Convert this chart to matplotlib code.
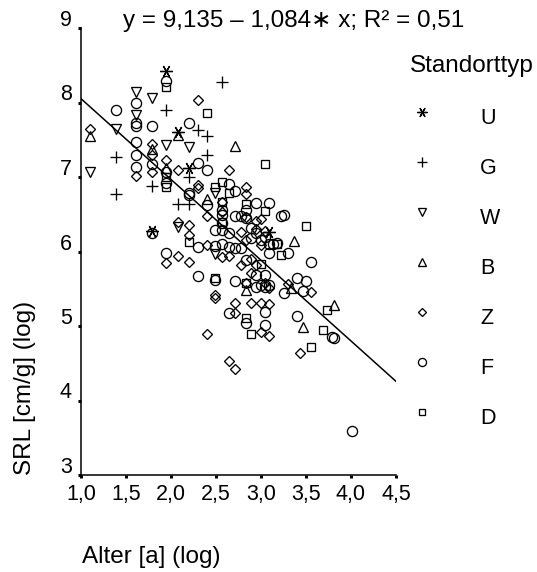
import numpy as np
import matplotlib
matplotlib.use("Agg")
import matplotlib.pyplot as plt
from matplotlib.transforms import ScaledTranslation

plt.rcParams['font.family'] = ['Liberation Sans', 'DejaVu Sans']

# ---- data: stand age [years] and log specific root length, by site type ----
site_types = ["U", "G", "W", "B", "Z", "F", "D"]

age_U = [7, 8, 9, 6, 22]
srl_U = [8.42, 7.60, 7.12, 6.27, 6.26]

age_G = [13, 7, 10, 11, 11, 4, 4, 9, 6, 8, 9]
srl_G = [8.28, 7.90, 7.63, 7.55, 7.30, 7.27, 6.77, 7.00, 6.88, 6.64, 6.64]

age_W = [3, 4, 5, 5, 6, 7, 9, 12, 8, 12]
srl_W = [7.07, 7.64, 8.14, 7.83, 8.06, 7.43, 7.40, 6.79, 6.33, 5.97]

age_B = [3, 8, 6, 7, 15, 11, 29, 17, 28, 45, 32]
srl_B = [7.55, 7.56, 7.38, 7.12, 7.42, 6.70, 6.14, 5.48, 5.51, 5.28, 4.99]

age_Z = [3, 5, 6, 6, 6, 7, 8, 10, 14, 10, 10, 17, 17, 13, 11, 13, 8, 9, 9, 16,
         17, 19, 20, 19, 21, 17, 20, 11, 7, 8, 9, 13, 14, 16, 18, 19, 18, 17,
         21, 22, 27, 35, 12, 12, 15, 18, 20, 22, 15, 11, 20, 22, 31, 14, 15]
srl_Z = [7.64, 7.02, 7.44, 7.30, 7.07, 7.23, 7.09, 8.03, 7.09, 6.89, 6.85, 6.87,
         6.77, 6.66, 6.48, 6.53, 6.40, 6.36, 6.22, 6.26, 6.46, 6.41, 6.43, 6.30,
         6.27, 6.15, 6.09, 6.09, 5.85, 5.94, 5.86, 5.93, 5.94, 5.82, 5.90, 5.82,
         5.71, 5.58, 5.58, 5.51, 5.56, 5.46, 5.41, 5.38, 5.31, 5.31, 5.31, 5.30,
         5.17, 4.89, 4.92, 4.87, 4.64, 4.53, 4.42]

age_F = [7, 5, 5, 5, 5, 5, 5, 4, 6, 6, 6, 9, 10, 11, 7, 7, 14, 15, 9, 9, 11,
         15, 16, 12, 13, 14, 19, 22, 17, 13, 13, 13, 25, 26, 17, 18, 19, 18, 20,
         21, 24, 22, 23, 7, 10, 12, 13, 14, 15, 16, 22, 27, 35, 17, 10, 12, 15,
         19, 21, 19, 20, 21, 22, 30, 33, 32, 26, 21, 14, 30, 17, 21, 44, 45, 55]
srl_F = [8.29, 8.00, 7.72, 7.69, 7.47, 7.30, 7.13, 7.90, 7.68, 7.17, 6.25, 7.72,
         7.19, 7.09, 7.07, 6.92, 6.91, 6.81, 6.79, 6.76, 6.62, 6.48, 6.48, 6.29,
         6.29, 6.25, 6.65, 6.65, 6.56, 6.56, 6.49, 6.38, 6.47, 6.49, 6.45, 6.32,
         6.25, 6.18, 6.15, 6.20, 6.12, 6.10, 6.10, 5.98, 6.06, 6.07, 6.10, 6.06,
         6.05, 6.05, 5.98, 5.98, 5.86, 5.88, 5.67, 5.62, 5.60, 5.69, 5.69, 5.52,
         5.55, 5.52, 5.55, 5.64, 5.60, 5.47, 5.44, 5.19, 5.17, 5.13, 5.04, 5.01,
         4.85, 4.84, 3.59]

age_D = [7, 11, 21, 13, 12, 14, 13, 17, 21, 13, 9, 24, 33, 7, 7, 25, 20, 12,
         17, 17, 18, 42, 40, 35]
srl_D = [8.21, 7.86, 7.17, 6.93, 6.87, 6.79, 6.66, 6.64, 6.54, 6.40, 6.13, 6.10,
         6.34, 7.00, 6.87, 5.95, 5.83, 5.64, 5.58, 5.11, 4.89, 5.21, 4.95, 4.72]

# fitted regression (log SRL on log age)
INTERCEPT = 9.135
SLOPE = -1.084
R2 = 0.51

x_ticks = [1.0, 1.5, 2.0, 2.5, 3.0, 3.5, 4.0, 4.5]
y_ticks = [3, 4, 5, 6, 7, 8, 9]

series = {
    "U": (age_U, srl_U), "G": (age_G, srl_G), "W": (age_W, srl_W),
    "B": (age_B, srl_B), "Z": (age_Z, srl_Z), "F": (age_F, srl_F),
    "D": (age_D, srl_D),
}
marker_style = {
    "U": dict(marker=(6, 2, 90), ms=9.0),
    "G": dict(marker="+", ms=8.5),
    "W": dict(marker="v", ms=7.5),
    "B": dict(marker="^", ms=7.5),
    "Z": dict(marker="D", ms=5.3),
    "F": dict(marker="o", ms=7.3),
    "D": dict(marker="s", ms=5.2),
}

W_PX, H_PX = 537, 572
fig = plt.figure(figsize=(W_PX / 100, H_PX / 100), dpi=100)
fig.patch.set_facecolor("white")


def fx(px):
    return px / W_PX


def fy(py):
    return 1 - py / H_PX


ax = fig.add_axes([fx(81), fy(475), (396 - 81) / W_PX, (475 - 28) / H_PX])

for key in site_types:
    ages, srl = series[key]
    st = marker_style[key]
    ax.plot(np.log(ages), srl, linestyle="none", marker=st["marker"],
            ms=st["ms"], mfc="none", mec="black", mew=0.95, clip_on=False,
            zorder=3)

x_fit = np.array([x_ticks[0], x_ticks[-1]])
ax.plot(x_fit, INTERCEPT + SLOPE * x_fit, color="black", lw=1.1, zorder=2)

ax.set_xlim(x_ticks[0], x_ticks[-1])
ax.set_ylim(y_ticks[0], y_ticks[-1])
ax.set_xticks(x_ticks)
ax.set_xticklabels([f"{v:.1f}".replace(".", ",") for v in x_ticks])
ax.set_yticks(y_ticks)
ax.set_yticklabels([str(v) for v in y_ticks])
for side in ("top", "right"):
    ax.spines[side].set_visible(False)
for side in ("left", "bottom"):
    ax.spines[side].set_linewidth(1.1)
ax.tick_params(direction="out", length=2.5, width=2.2, labelsize=15.5,
               color="black")
ax.tick_params(axis="x", pad=4)
ax.tick_params(axis="y", pad=4)
lift = ScaledTranslation(0, 2 / 100, fig.dpi_scale_trans)
for t in ax.yaxis.get_major_ticks():
    t.label1.set_verticalalignment("baseline")
    t.label1.set_transform(t.label1.get_transform() + lift)


def dec(v, n):
    return f"{v:.{n}f}".replace(".", ",")


title = f"y = {dec(INTERCEPT, 3)} \u2013 {dec(abs(SLOPE), 3)}\u2217 x; R\u00b2 = {dec(R2, 2)}"
fig.text(fx(123), fy(27), title, ha="left", va="baseline", fontsize=17.5)
fig.text(fx(25), fy(475), "SRL [cm/g] (log)", rotation=90, ha="center",
         va="bottom", fontsize=17.5)
fig.text(fx(82), fy(563), "Alter [a] (log)", ha="left", va="baseline",
         fontsize=17.5)

# legend drawn in figure pixel space
lax = fig.add_axes([0, 0, 1, 1])
lax.set_xlim(0, W_PX)
lax.set_ylim(H_PX, 0)
lax.axis("off")
lax.text(410, 72, "Standorttyp", ha="left", va="baseline", fontsize=17.5)
for i, key in enumerate(site_types):
    yc = 116 + i * 50
    st = marker_style[key]
    lax.plot([422], [yc - 4], linestyle="none", marker=st["marker"],
             ms=st["ms"] * 0.8, mfc="none", mec="black", mew=0.95)
    lax.text(480, yc + 7.5, key, ha="left", va="baseline", fontsize=15.5)

fig.savefig("out.png", dpi=100, facecolor="white")
